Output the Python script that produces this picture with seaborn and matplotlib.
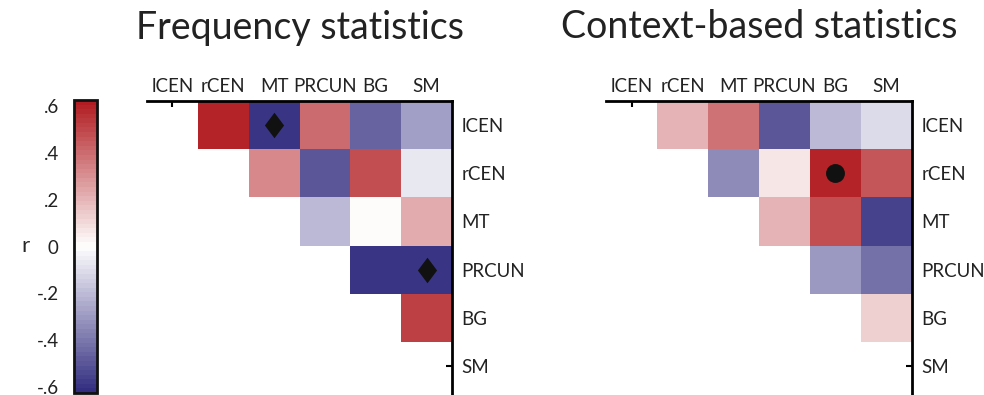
import numpy as np
import pandas as pd
import matplotlib
matplotlib.use("Agg")
import matplotlib.pyplot as plt
import seaborn as sns
from matplotlib.colors import LinearSegmentedColormap
from matplotlib.path import Path

# Network labels
regions = ["lCEN", "rCEN", "MT", "PRCUN", "BG", "SM"]

# Upper-triangle correlations (row-wise, above the diagonal)
freq_values = [0.60, -0.60, 0.40, -0.45, -0.28,
               0.33, -0.50, 0.48, -0.06,
               -0.20, 0.00, 0.22,
               -0.60, -0.60,
               0.52]
context_values = [0.20, 0.38, -0.50, -0.20, -0.10,
                  -0.35, 0.07, 0.60, 0.45,
                  0.20, 0.48, -0.55,
                  -0.30, -0.42,
                  0.12]

# Significant cells (row, column)
freq_marks = [("lCEN", "MT"), ("PRCUN", "SM")]
context_marks = [("rCEN", "BG")]

cbar_ticks = [0.6, 0.4, 0.2, 0.0, -0.2, -0.4, -0.6]
cbar_ticklabels = [".6", ".4", ".2", "0", "-.2", "-.4", "-.6"]

sns.set_theme(style="white")
plt.rcParams["font.family"] = ["Lato", "DejaVu Sans"]
plt.rcParams["text.color"] = "#222222"

W, H = 984, 395
fig = plt.figure(figsize=(W / 100, H / 100), dpi=100)


def box(x0, y0, x1, y1):
    return [x0 / W, 1 - y1 / H, (x1 - x0) / W, (y1 - y0) / H]


cmap = LinearSegmentedColormap.from_list(
    "blue_white_red", ["#332e80", "#ffffff", "#b01c21"], N=64)
vlim = 0.625


def to_matrix(vals):
    n = len(regions)
    m = np.full((n, n), np.nan)
    k = 0
    for i in range(n):
        for j in range(i + 1, n):
            m[i, j] = vals[k]
            k += 1
    return pd.DataFrame(m, index=regions, columns=regions)


diamond = Path([(0, 1), (0.75, 0), (0, -1), (-0.75, 0), (0, 1)],
               [Path.MOVETO, Path.LINETO, Path.LINETO, Path.LINETO, Path.CLOSEPOLY])


def draw_panel(rect, vals, marks, marker, msize, title):
    ax = fig.add_axes(rect)
    df = to_matrix(vals)
    sns.heatmap(df, mask=df.isna(), cmap=cmap, vmin=-vlim, vmax=vlim,
                cbar=False, ax=ax, linewidths=0, square=False)
    ax.set_ylim(6.1, 0)
    ax.set_xlim(0, 6)
    for side in ["left", "bottom"]:
        ax.spines[side].set_visible(False)
    for side in ["top", "right"]:
        ax.spines[side].set_visible(True)
        ax.spines[side].set_color("black")
        ax.spines[side].set_linewidth(2)
    ax.xaxis.tick_top()
    ax.yaxis.tick_right()
    ax.set_xticks(np.arange(6) + 0.5)
    ax.set_xticklabels(regions, rotation=0)
    ax.set_yticks(np.arange(6) + 0.5)
    ax.set_yticklabels(regions, rotation=0)
    ax.tick_params(axis="both", direction="in", length=4, width=1.5,
                   colors="black", labelcolor="#222222", labelsize=13.5)
    ax.tick_params(axis="x", pad=4, top=True, bottom=False)
    ax.tick_params(axis="y", pad=7, right=True, left=False)
    ax.set_xlabel("")
    ax.set_ylabel("")
    for r, c in marks:
        ax.scatter(regions.index(c) + 0.5, regions.index(r) + 0.5,
                   marker=marker, s=msize, color="#111111", zorder=5,
                   linewidths=0)
    ax.set_title(title, fontsize=27, pad=45, color="#222222")
    return ax


ax1 = draw_panel(box(147, 101, 452, 395), freq_values, freq_marks,
                 diamond, 340, "Frequency statistics")
ax2 = draw_panel(box(606, 101, 912, 395), context_values, context_marks,
                 "o", 185, "Context-based statistics")

# Shared colour scale
cax = fig.add_axes(box(74, 100, 97, 393))
cb = fig.colorbar(ax1.collections[0], cax=cax)
cb.set_ticks(cbar_ticks)
cb.set_ticklabels(cbar_ticklabels)
cb.outline.set_linewidth(2)
cb.outline.set_edgecolor("#111111")
cax.yaxis.set_ticks_position("both")
cax.yaxis.set_label_position("left")
cax.tick_params(axis="y", direction="in", length=3, width=1.5,
                labelleft=True, labelright=False, labelsize=13.5, pad=11,
                colors="black", labelcolor="#222222")
cax.set_ylabel("r", rotation=0, fontsize=16, labelpad=8, va="center")

fig.savefig("out.png", dpi=100)
